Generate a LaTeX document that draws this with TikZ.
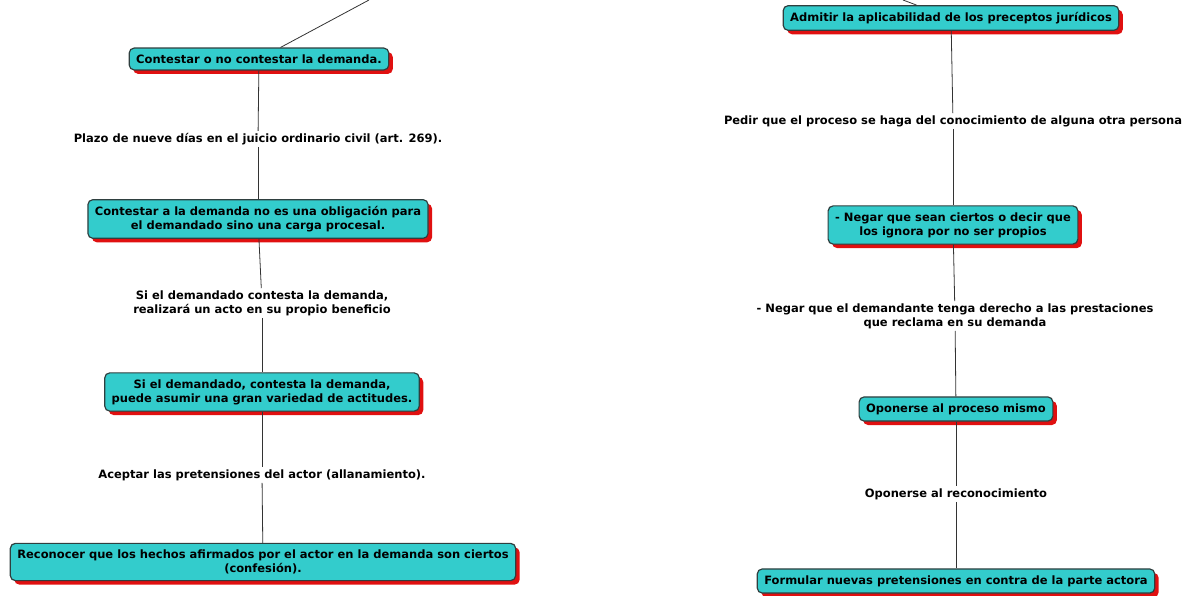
\documentclass[tikz,border=0pt]{standalone}
\usepackage{fontspec}
\setmainfont{DejaVu Sans}
\usetikzlibrary{shadows}
\definecolor{turquesa}{HTML}{33CCCC}
\definecolor{rojosombra}{HTML}{E01010}
\definecolor{borde}{HTML}{2F3F3F}
\begin{document}
\begin{tikzpicture}[x=1pt,y=-1pt,
  caja/.style={draw=borde,line width=1.2pt,fill=turquesa,rounded corners=5pt,
    drop shadow={fill=rojosombra,opacity=1,shadow xshift=4pt,shadow yshift=-4pt},
    align=center,font=\bfseries\fontsize{11.5}{14}\selectfont,
    inner xsep=7pt,inner ysep=6.5pt},
  rotulo/.style={align=center,font=\bfseries\fontsize{11.5}{14}\selectfont,inner sep=2pt},
  linea/.style={draw=black!80,line width=0.8pt}]
\useasboundingbox (0,0) rectangle (1187,596);
% columna izquierda
\coordinate (arribaI) at (369,0);
\node[caja] (contestar) at (259,59) {Contestar o no contestar la demanda.};
\node[rotulo] (plazo) at (258,139) {Plazo de nueve días en el juicio ordinario civil (art. 269).};
\node[caja] (carga) at (258,219) {Contestar a la demanda no es una obligación para\\el demandado sino una carga procesal.};
\node[rotulo] (beneficio) at (262,303) {Si el demandado contesta la demanda,\\realizará un acto en su propio beneficio};
\node[caja] (actitudes) at (262,392) {Si el demandado, contesta la demanda,\\puede asumir una gran variedad de actitudes.};
\node[rotulo] (allanamiento) at (262,475) {Aceptar las pretensiones del actor (allanamiento).};
\node[caja] (confesion) at (263,562) {Reconocer que los hechos afirmados por el actor en la demanda son ciertos\\(confesión).};
% columna derecha
\coordinate (arribaD) at (903,0);
\node[caja] (admitir) at (951,18) {Admitir la aplicabilidad de los preceptos jurídicos};
\node[rotulo] (pedir) at (953,121) {Pedir que el proceso se haga del conocimiento de alguna otra persona};
\node[caja] (negar) at (953,225) {- Negar que sean ciertos o decir que\\los ignora por no ser propios};
\node[rotulo] (prestaciones) at (955,316) {- Negar que el demandante tenga derecho a las prestaciones\\que reclama en su demanda};
\node[caja] (oponerse) at (956,409) {Oponerse al proceso mismo};
\node[rotulo] (reconocimiento) at (956,494) {Oponerse al reconocimiento};
\node[caja] (formular) at (956,581) {Formular nuevas pretensiones en contra de la parte actora};
% conectores
\draw[linea] (arribaI)--(contestar);
\draw[linea] (contestar)--(plazo);
\draw[linea] (plazo)--(carga);
\draw[linea] (carga)--(beneficio);
\draw[linea] (beneficio)--(actitudes);
\draw[linea] (actitudes)--(allanamiento);
\draw[linea] (allanamiento)--(confesion);
\draw[linea] (arribaD)--(admitir);
\draw[linea] (admitir)--(pedir);
\draw[linea] (pedir)--(negar);
\draw[linea] (negar)--(prestaciones);
\draw[linea] (prestaciones)--(oponerse);
\draw[linea] (oponerse)--(reconocimiento);
\draw[linea] (reconocimiento)--(formular);
\end{tikzpicture}
\end{document}
